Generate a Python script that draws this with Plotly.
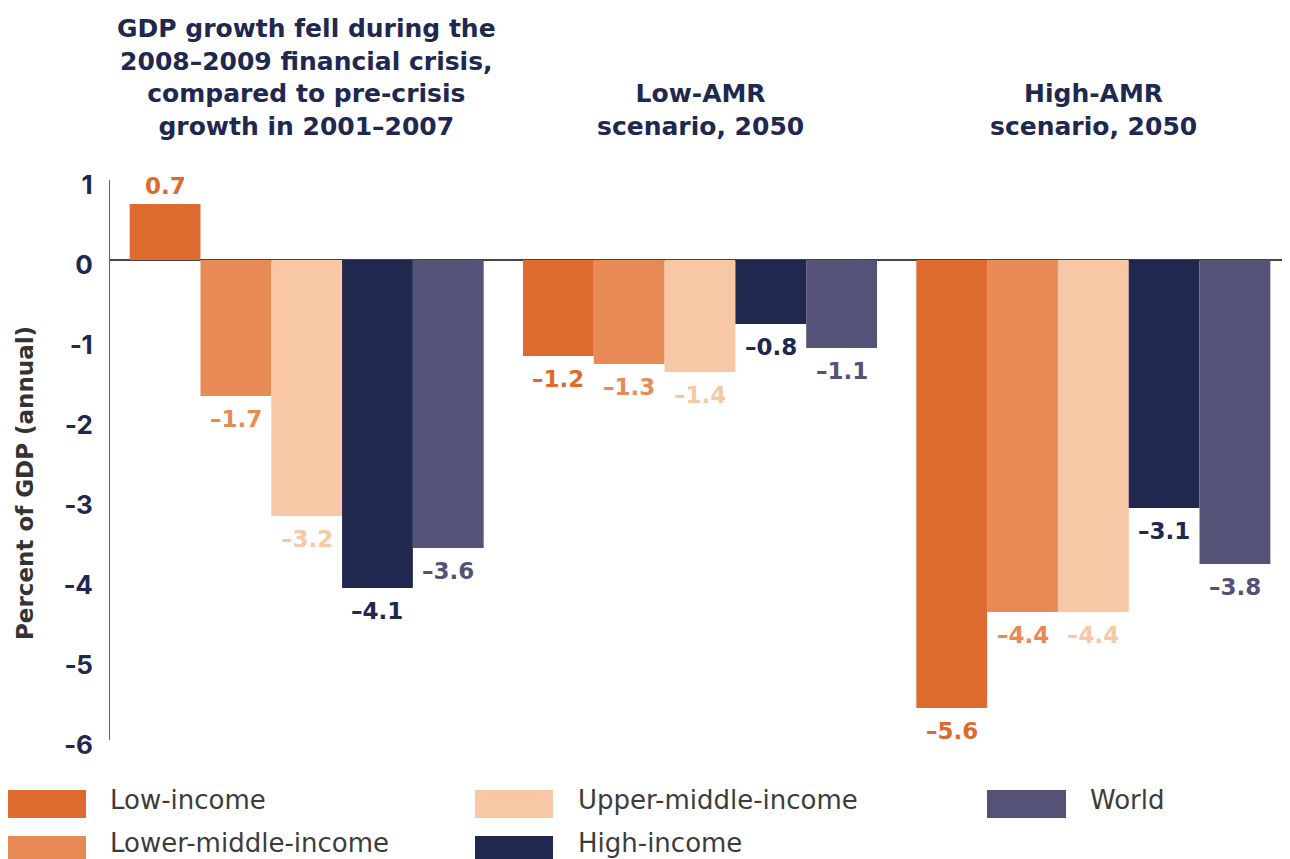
import plotly.graph_objects as go

# ---- data ----
groups = [
    "GDP growth fell during the<br>2008–2009 financial crisis,<br>compared to pre-crisis<br>growth in 2001–2007",
    "Low-AMR<br>scenario, 2050",
    "High-AMR<br>scenario, 2050",
]
series_names = ["Low-income", "Lower-middle-income", "Upper-middle-income", "High-income", "World"]
low_income = [0.7, -1.2, -5.6]
lower_middle_income = [-1.7, -1.3, -4.4]
upper_middle_income = [-3.2, -1.4, -4.4]
high_income = [-4.1, -0.8, -3.1]
world = [-3.6, -1.1, -3.8]
series_values = [low_income, lower_middle_income, upper_middle_income, high_income, world]
colors = ["#DD6A2E", "#E88A55", "#F8C7A5", "#202850", "#545277"]
y_ticks = [1, 0, -1, -2, -3, -4, -5, -6]

NAVY = "#202850"
OFF = 8  # page body margin offset
W, H = 1290 - OFF, 859 - OFF
ML, MR, MT = 110 - OFF, 0, 180 - OFF
MB = H - (740 - OFF)
PW, PH = W - ML - MR, H - MT - MB

def px_x(x):  # picture pixel -> paper
    return (x - OFF - ML) / PW

def px_y(y):
    return (H - MB - (y - OFF)) / PH

bw = 0.9 / len(series_names)
fig = go.Figure()
for i, (name, vals, col) in enumerate(zip(series_names, series_values, colors)):
    xs = [g + (i - (len(series_names) - 1) / 2) * bw for g in range(len(groups))]
    fig.add_trace(go.Bar(x=xs, y=vals, width=bw, name=name, marker=dict(color=col, line=dict(width=0)),
                         showlegend=False, hoverinfo="skip"))
    for x, v in zip(xs, vals):
        fig.add_annotation(x=x, y=v, xref="x", yref="y", text=f"{v:.1f}".replace("-", "–"),
                           showarrow=False, yanchor="bottom" if v >= 0 else "top",
                           yshift=3 if v >= 0 else -8,
                           font=dict(family="DejaVu Sans", size=23, color=col, weight=700))

# group titles
for g, t in enumerate(groups):
    fig.add_annotation(x=g, y=px_y(143), xref="x", yref="paper", text=t, showarrow=False,
                       yanchor="bottom", align="center",
                       font=dict(family="DejaVu Sans", size=25, color=NAVY, weight=700))

# y title
fig.add_annotation(x=px_x(25), y=px_y(483), xref="paper", yref="paper", text="Percent of GDP (annual)",
                   textangle=-90, showarrow=False, xanchor="center", yanchor="middle",
                   font=dict(family="DejaVu Sans", size=23, color="#333333", weight=700))

# custom legend
leg_cols = [(8, 86, 108), (475, 553, 576), (987, 1066, 1088)]
leg_rows = [(790, 818, 800), (836, 864, 843)]
layout_pos = [(0, 0), (0, 1), (1, 0), (1, 1), (2, 0)]
for (c, r), name, col in zip(layout_pos, series_names, colors):
    x0, x1, tx = leg_cols[c]
    y0, y1, ty = leg_rows[r]
    fig.add_shape(type="rect", xref="paper", yref="paper", x0=px_x(x0), x1=px_x(x1),
                  y0=px_y(y1), y1=px_y(y0), fillcolor=col, line=dict(width=0))
    fig.add_annotation(x=px_x(tx), y=px_y(ty), xref="paper", yref="paper", text=name, showarrow=False,
                       xanchor="left", yanchor="middle",
                       font=dict(family="DejaVu Sans", size=26, color="#3C3C3C"))

fig.update_layout(
    width=W, height=H, margin=dict(l=ML, r=MR, t=MT, b=MB),
    paper_bgcolor="white", plot_bgcolor="white",
    xaxis=dict(range=[-0.5, 2.5], showticklabels=False, showgrid=False, zeroline=False, showline=False, ticks=""),
    yaxis=dict(range=[-6, 1], tickvals=y_ticks, ticktext=[str(v).replace("-", "\u2010") for v in y_ticks],
               showgrid=False, zeroline=True, zerolinecolor="#444444", zerolinewidth=1.5,
               showline=True, linecolor="#666666", linewidth=1, ticks="",
               ticklabelstandoff=11, ticklabelshift=5,
               tickfont=dict(family="Inter", size=26, color=NAVY, weight=700)),
    showlegend=False,
)
fig.write_html("out.html")
